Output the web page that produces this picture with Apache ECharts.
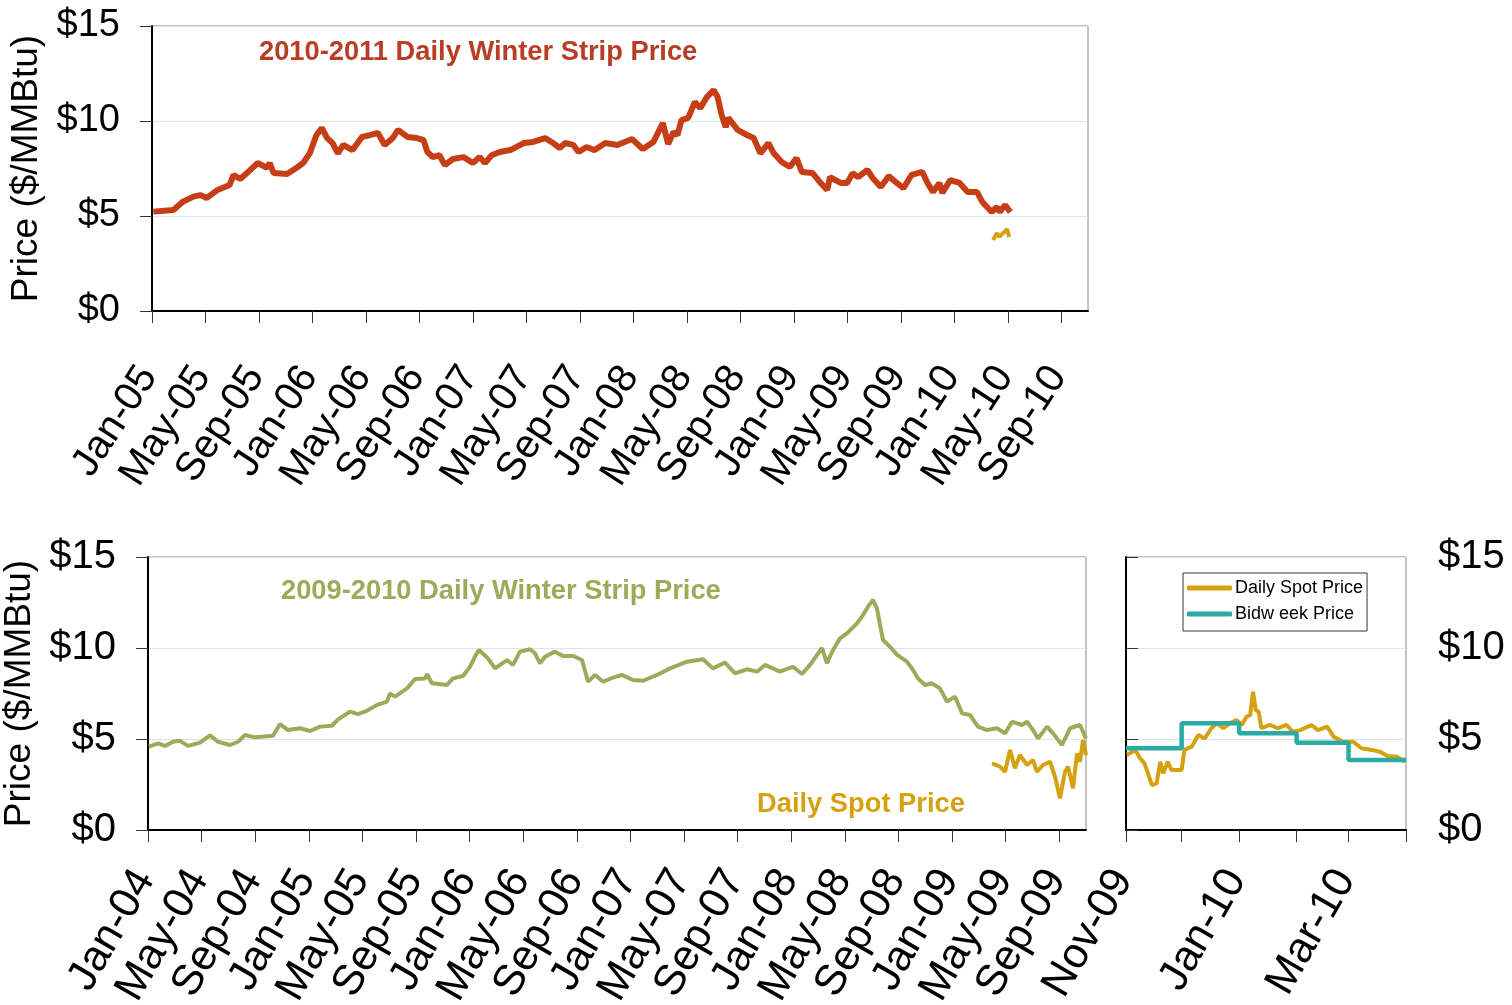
<!DOCTYPE html>
<html><head><meta charset="utf-8">
<script src="https://cdn.jsdelivr.net/npm/echarts@6/dist/echarts.min.js"></script>
<style>html,body{margin:0;padding:0;background:#fff}#c{width:1512px;height:1005px}</style>
</head><body><div id="c"></div>
<script>
// ---------- tick labels ----------
const priceTicks = [0, 5, 10, 15];
const topTickLabels = ['Jan-05','May-05','Sep-05','Jan-06','May-06','Sep-06','Jan-07','May-07','Sep-07','Jan-08','May-08','Sep-08','Jan-09','May-09','Sep-09','Jan-10','May-10','Sep-10'];
const bottomTickLabels = ['Jan-04','May-04','Sep-04','Jan-05','May-05','Sep-05','Jan-06','May-06','Sep-06','Jan-07','May-07','Sep-07','Jan-08','May-08','Sep-08','Jan-09','May-09','Sep-09'];
const rightTickLabels = ['Nov-09','Jan-10','Mar-10'];
const rightLabelDays = [0, 61, 120];          // days since 1-Nov-09
const rightMonthStartDays = [0, 30, 61, 92, 120, 151];

// ---------- series (x = months since Jan-05 for top panel) ----------
const strip1011 = [[0.1,5.23],[1.6,5.32],[2.3,5.75],[3.1,6.02],[3.6,6.1],[4.1,5.95],[4.9,6.37],[5.8,6.63],[6.1,7.16],[6.6,6.95],[7.1,7.26],[7.9,7.79],[8.6,7.53],[8.8,7.79],[9.1,7.26],[10.1,7.21],[10.9,7.58],[11.3,7.79],[11.8,8.3],[12.3,9.26],[12.7,9.63],[13.1,9.1],[13.5,8.84],[13.9,8.3],[14.3,8.74],[15.0,8.47],[15.7,9.16],[16.3,9.26],[16.9,9.37],[17.4,8.74],[18.0,9.1],[18.4,9.53],[19.1,9.16],[19.8,9.1],[20.3,9.0],[20.6,8.37],[21.0,8.1],[21.5,8.2],[21.9,7.68],[22.5,8.0],[23.3,8.1],[24.0,7.79],[24.5,8.1],[24.9,7.79],[25.4,8.2],[26.0,8.37],[26.8,8.47],[27.8,8.84],[28.5,8.9],[29.4,9.1],[30.0,8.84],[30.5,8.58],[30.9,8.84],[31.5,8.74],[31.9,8.37],[32.5,8.63],[33.1,8.47],[33.9,8.84],[34.8,8.74],[35.9,9.05],[36.7,8.53],[37.5,8.9],[38.2,9.89],[38.6,8.79],[39.0,9.42],[39.3,9.26],[39.6,10.05],[40.1,10.16],[40.6,11.0],[41.0,10.68],[41.5,11.26],[42.0,11.63],[42.3,11.26],[42.6,10.32],[42.9,9.68],[43.1,10.16],[43.8,9.53],[44.5,9.26],[45.0,9.1],[45.5,8.3],[46.1,8.84],[46.5,8.3],[47.1,7.84],[47.7,7.58],[48.2,8.05],[48.6,7.32],[49.4,7.26],[50.0,6.74],[50.5,6.37],[50.7,7.05],[51.5,6.74],[52.0,6.74],[52.4,7.26],[52.8,7.05],[53.5,7.42],[53.9,7.0],[54.5,6.53],[55.1,7.1],[55.7,6.74],[56.2,6.47],[56.8,7.16],[57.6,7.32],[58.0,6.74],[58.4,6.26],[58.9,6.74],[59.1,6.21],[59.7,6.89],[60.4,6.74],[61.0,6.26],[61.7,6.26],[62.1,5.74],[62.8,5.21],[63.2,5.47],[63.4,5.21],[63.8,5.58],[64.2,5.21]];
const spotTop = [[62.9,3.74],[63.2,4.1],[63.35,3.9],[63.65,4.1],[63.95,4.3],[64.1,3.9]];

// ---------- bottom-left (x = months since Jan-04) ----------
const strip0910 = [[0.07,4.58],[0.75,4.76],[1.27,4.62],[1.87,4.85],[2.39,4.9],[2.99,4.62],[3.88,4.8],[4.63,5.2],[5.22,4.85],[6.12,4.67],[6.72,4.85],[7.24,5.22],[7.99,5.09],[9.33,5.18],[9.85,5.82],[10.45,5.49],[11.34,5.59],[12.09,5.44],[12.84,5.68],[13.73,5.73],[14.18,6.08],[15.07,6.5],[15.67,6.37],[16.19,6.5],[17.09,6.87],[17.84,7.05],[18.06,7.51],[18.43,7.33],[19.33,7.78],[19.93,8.3],[20.67,8.33],[20.82,8.57],[21.19,8.06],[22.31,7.97],[22.76,8.33],[23.51,8.46],[24.03,8.97],[24.4,9.52],[24.7,9.89],[25.37,9.43],[25.9,8.88],[26.79,9.34],[27.24,9.07],[27.76,9.8],[28.51,9.93],[28.88,9.71],[29.25,9.16],[29.63,9.52],[30.37,9.8],[30.97,9.56],[31.72,9.56],[32.39,9.34],[32.84,8.15],[33.36,8.52],[33.96,8.15],[34.7,8.37],[35.37,8.52],[36.19,8.24],[36.94,8.2],[37.99,8.52],[38.96,8.88],[40.22,9.25],[41.42,9.38],[42.16,8.88],[43.06,9.2],[43.81,8.61],[44.7,8.83],[45.45,8.7],[46.04,9.07],[47.16,8.7],[48.13,8.97],[48.81,8.57],[49.4,9.07],[50.3,10.0],[50.67,9.16],[51.12,9.89],[51.64,10.53],[52.16,10.8],[52.91,11.35],[53.36,11.81],[53.73,12.27],[54.1,12.64],[54.4,12.18],[54.63,11.26],[54.85,10.44],[55.37,10.07],[55.9,9.62],[56.64,9.25],[57.09,8.79],[57.46,8.33],[57.99,7.97],[58.51,8.06],[59.1,7.78],[59.63,7.05],[60.22,7.33],[60.75,6.41],[61.34,6.32],[61.94,5.68],[62.61,5.49],[63.36,5.59],[63.96,5.31],[64.48,5.95],[65.22,5.77],[65.6,5.95],[66.04,5.49],[66.42,5.03],[67.09,5.68],[67.54,5.31],[68.21,4.67],[68.81,5.59],[69.55,5.77],[70.0,5.03]];
const spotBottom = [[62.99,3.66],[63.58,3.48],[63.96,3.2],[64.33,4.4],[64.7,3.39],[65.07,4.12],[65.6,3.57],[66.04,3.85],[66.34,3.2],[66.79,3.57],[67.31,3.75],[67.69,2.93],[68.06,1.74],[68.43,3.2],[68.66,3.48],[69.03,2.29],[69.33,4.21],[69.55,3.75],[69.78,4.95],[70.0,4.12]];

// ---------- bottom-right (x = days since 1-Nov-09) ----------
const spotDaily = [[0.5,4.12],[5,4.4],[7.5,3.95],[10,3.66],[14,2.47],[16.5,2.56],[18.5,3.75],[20,3.11],[22.5,3.75],[24.5,3.3],[27.5,3.3],[30,3.3],[31.5,4.4],[35.5,4.58],[39,5.22],[42.5,5.03],[46,5.59],[49,5.86],[52.5,5.59],[56,5.86],[59.5,6.04],[62.5,5.77],[65,6.23],[67,6.32],[68.5,7.6],[70,6.59],[71.5,6.5],[73,5.59],[77.5,5.77],[82,5.59],[86.5,5.77],[90,5.4],[94,5.49],[100,5.77],[103.5,5.49],[108.5,5.68],[112,5.13],[117,4.85],[122.5,4.85],[127,4.49],[132.5,4.4],[137,4.3],[141,4.07],[146,4.03],[150.5,3.75]];
const bidweek = [[0,4.49],[30,5.86],[61,5.31],[92,4.80],[120,3.85],[151,3.85]];

// ---------- styles ----------
const FONT = '"Liberation Sans", Arial, sans-serif';
const C_RED = '#C63E16', C_GREEN = '#9CAB5A', C_GOLD = '#D5A10E', C_TEAL = '#2AABA6';

const chart = echarts.init(document.getElementById('c'), null, {renderer: 'canvas'});

function yAxisCfg(grid, pos, withName, fs) {
  return {
    type: 'value', gridIndex: grid, position: pos, min: 0, max: 15, interval: 5,
    axisLine: {show: true, lineStyle: {color: '#000', width: 2}},
    axisTick: {show: true, length: 12, lineStyle: {color: '#333'}},
    axisLabel: {formatter: v => '$' + v, fontSize: fs, fontFamily: FONT, color: '#000', margin: 32},
    splitLine: {show: true, lineStyle: {color: '#D6E7EC', width: 1}},
    name: withName ? 'Price ($/MMBtu)' : '', nameLocation: 'middle', nameGap: 105,
    nameTextStyle: {fontSize: 37, fontFamily: FONT, color: '#000'}
  };
}
function monthAxisCfg(grid, labels, rotate, fontSize, margin) {
  const pos = labels.map((_, i) => i * 4);
  return {
    type: 'value', gridIndex: grid, min: 0, max: 70,
    axisLine: {show: true, onZero: false, lineStyle: {color: '#000', width: 2}},
    axisTick: {show: true, length: 12, customValues: pos, lineStyle: {color: '#333'}},
    axisLabel: {customValues: pos, formatter: v => labels[Math.round(v / 4)] || '',
      rotate: rotate, fontSize: fontSize, fontFamily: FONT, color: '#000', margin: margin,
      align: 'right', verticalAlign: 'middle', padding: [0, 6, 0, 0]},
    splitLine: {show: false}
  };
}

const option = {
  animation: false,
  backgroundColor: '#fff',
  grid: [
    {left: 152, top: 26, width: 936, height: 285, show: true, borderColor: '#888', borderWidth: 1, outerBoundsMode: 'none', containLabel: false},
    {left: 148, top: 557, width: 938, height: 273, show: true, borderColor: '#888', borderWidth: 1, outerBoundsMode: 'none', containLabel: false},
    {left: 1126, top: 557, width: 280, height: 273, show: true, borderColor: '#888', borderWidth: 1, outerBoundsMode: 'none', containLabel: false}
  ],
  xAxis: [
    monthAxisCfg(0, topTickLabels, 57, 40, 54),
    monthAxisCfg(1, bottomTickLabels, 60, 43, 38),
    {
      type: 'value', gridIndex: 2, min: 0, max: 151,
      axisLine: {show: true, onZero: false, lineStyle: {color: '#000', width: 2}},
      axisTick: {show: true, length: 12, customValues: rightMonthStartDays, lineStyle: {color: '#333'}},
      axisLabel: {customValues: rightLabelDays, formatter: v => rightTickLabels[rightLabelDays.indexOf(Math.round(v))] || '',
        rotate: 60, fontSize: 43, fontFamily: FONT, color: '#000', margin: 38, align: 'right', verticalAlign: 'middle', padding: [0, 6, 0, 0]},
      splitLine: {show: false}
    }
  ],
  yAxis: [yAxisCfg(0, 'left', true, 38), yAxisCfg(1, 'left', true, 40), yAxisCfg(2, 'right', false, 40)],
  legend: {
    data: ['Daily Spot Price', 'Bidw eek Price'],
    orient: 'vertical', left: 1183, top: 573,
    itemWidth: 45, itemHeight: 5, itemGap: 8, icon: 'roundRect',
    padding: [6, 4, 8, 4],
    borderColor: '#333', borderWidth: 1, backgroundColor: '#fff',
    textStyle: {fontSize: 18, fontFamily: FONT, color: '#000', padding: [0, 0, 0, -2]}
  },
  series: [
    {name: '2010-2011 Strip', type: 'line', xAxisIndex: 0, yAxisIndex: 0, data: strip1011, showSymbol: false,
      lineStyle: {color: C_RED, width: 6}, itemStyle: {color: C_RED}},
    {name: 'Spot (top)', type: 'line', xAxisIndex: 0, yAxisIndex: 0, data: spotTop, showSymbol: false,
      lineStyle: {color: C_GOLD, width: 4}, itemStyle: {color: C_GOLD}},
    {name: '2009-2010 Strip', type: 'line', xAxisIndex: 1, yAxisIndex: 1, data: strip0910, showSymbol: false,
      lineStyle: {color: C_GREEN, width: 4}, itemStyle: {color: C_GREEN}},
    {name: 'Spot (bottom)', type: 'line', xAxisIndex: 1, yAxisIndex: 1, data: spotBottom, showSymbol: false,
      lineStyle: {color: C_GOLD, width: 4}, itemStyle: {color: C_GOLD}},
    {name: 'Daily Spot Price', type: 'line', xAxisIndex: 2, yAxisIndex: 2, data: spotDaily, showSymbol: false,
      lineStyle: {color: C_GOLD, width: 4}, itemStyle: {color: C_GOLD}},
    {name: 'Bidw eek Price', type: 'line', xAxisIndex: 2, yAxisIndex: 2, data: bidweek, step: 'end', showSymbol: false,
      lineStyle: {color: C_TEAL, width: 4.5}, itemStyle: {color: C_TEAL}}
  ],
  graphic: [
    {type: 'text', x: 259, y: 52, style: {text: '2010-2011 Daily Winter Strip Price', fill: '#B83D24',
      font: 'bold 27.3px ' + FONT, verticalAlign: 'middle'}},
    {type: 'text', x: 281, y: 591, style: {text: '2009-2010 Daily Winter Strip Price', fill: '#9CAB5A',
      font: 'bold 27.3px ' + FONT, verticalAlign: 'middle'}},
    {type: 'text', x: 757, y: 804, style: {text: 'Daily Spot Price', fill: '#D5A10E',
      font: 'bold 27.3px ' + FONT, verticalAlign: 'middle'}}
  ]
};
chart.setOption(option);
</script>
</body></html>
